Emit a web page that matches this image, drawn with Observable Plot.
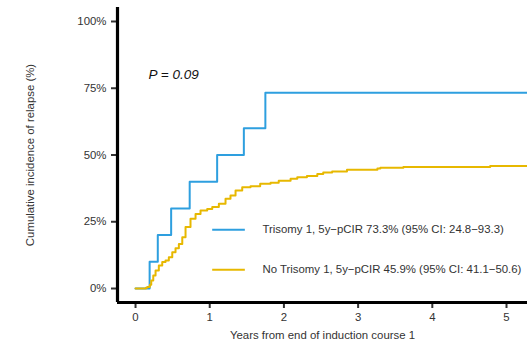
<!DOCTYPE html>
<html>
<head>
<meta charset="utf-8">
<script src="https://cdn.jsdelivr.net/npm/d3@7"></script>
<script src="https://cdn.jsdelivr.net/npm/@observablehq/plot@0.6"></script>
<style>
  html, body { margin: 0; padding: 0; background: #fff; }
  #chart svg { display: block; }
</style>
</head>
<body>
<div id="chart"></div>
<script>
// Cumulative incidence of relapse by trisomy 1 status (step functions)
const trisomyYears = [0, 0.19, 0.30, 0.48, 0.73, 1.10, 1.46, 1.75, 5.4];
const trisomyPct   = [0, 10, 20, 30, 40, 50, 60, 73.3, 73.3];

const noTrisomyYears = [0, 0.14, 0.158, 0.193, 0.212, 0.239, 0.270, 0.314, 0.360, 0.404, 0.449, 0.495, 0.539, 0.584, 0.630, 0.674, 0.741, 0.809, 0.876, 0.966, 1.034, 1.123, 1.213, 1.280, 1.348, 1.438, 1.55, 1.68, 1.82, 1.93, 2.09, 2.18, 2.31, 2.45, 2.53, 2.65, 2.85, 3.26, 3.30, 3.61, 4.78, 5.4];
const noTrisomyPct   = [0, 0.3, 0.6, 1.4, 3.0, 4.9, 6.7, 8.6, 9.9, 10.5, 11.7, 13.6, 15.1, 16.7, 19.2, 23.0, 26.1, 27.9, 29.2, 29.8, 30.5, 31.7, 33.6, 34.8, 36.7, 37.9, 38.3, 39.2, 39.6, 40.4, 41.1, 41.7, 42.1, 42.9, 43.4, 43.8, 44.5, 44.9, 45.2, 45.5, 45.9, 45.9];

const groups = ["Trisomy 1", "No Trisomy 1"];
const groupColors = ["#2E9FDF", "#E7B800"];
const legendLabels = [
  "Trisomy 1, 5y\u2212pCIR 73.3% (95% CI: 24.8\u221293.3)",
  "No Trisomy 1, 5y\u2212pCIR 45.9% (95% CI: 41.1\u221250.6)"
];
const yTicks = [0, 25, 50, 75, 100];
const xTicks = [0, 1, 2, 3, 4, 5];
const pValueLabel = "P = 0.09";

const rows = [
  ...trisomyYears.map((t, i) => ({group: groups[0], t, pct: trisomyPct[i]})),
  ...noTrisomyYears.map((t, i) => ({group: groups[1], t, pct: noTrisomyPct[i]}))
];

const xDomain = [-0.243, 5.283];
const yDomain = [-5.24, 105.24];

// legend keys sit in the lower-right area of the panel
const legend = groups.map((g, i) => ({
  group: g, label: legendLabels[i], color: groupColors[i],
  y: i === 0 ? 22 : 7
}));

const font = "'Liberation Sans', Arial, Helvetica, sans-serif";

const chart = Plot.plot({
  width: 527,
  height: 340,
  marginLeft: 117,
  marginRight: 0,
  marginTop: 7,
  marginBottom: 38,
  style: {fontFamily: font, fontSize: "11.4px", color: "#333", background: "#fff"},
  x: {domain: xDomain},
  y: {domain: yDomain},
  color: {domain: groups, range: groupColors},
  marks: [
    Plot.axisY(yTicks, {
      tickSize: 6, tickPadding: 5, strokeWidth: 2, stroke: "#333",
      tickFormat: d => d + "%", fill: "#333",
      label: "Cumulative incidence of relapse (%)", labelAnchor: "center",
      labelOffset: 92, labelArrow: false
    }),
    Plot.axisX(xTicks, {
      tickSize: 6, tickPadding: 4, strokeWidth: 2, stroke: "#333",
      tickFormat: d => String(d), fill: "#333",
      label: "Years from end of induction course 1", labelAnchor: "center",
      labelOffset: 36, labelArrow: false
    }),
    Plot.ruleX([xDomain[0]], {y1: yDomain[0], y2: yDomain[1], stroke: "#000", strokeWidth: 3.2}),
    Plot.ruleY([yDomain[0]], {x1: xDomain[0], x2: xDomain[1], stroke: "#000", strokeWidth: 3.2}),
    Plot.line(rows, {x: "t", y: "pct", z: "group", stroke: "group", strokeWidth: 2, curve: "step-after", clip: true}),
    Plot.text([pValueLabel], {x: 0.175, y: 80, text: d => d, textAnchor: "start", fontStyle: "italic", fontSize: 13.5, fill: "#111"}),
    Plot.ruleY(legend, {x1: 1.04, x2: 1.48, y: "y", stroke: "color", strokeWidth: 2}),
    Plot.text(legend, {x: 1.71, y: "y", text: "label", textAnchor: "start", fill: "#333"})
  ]
});

document.getElementById("chart").appendChild(chart);
</script>
</body>
</html>
